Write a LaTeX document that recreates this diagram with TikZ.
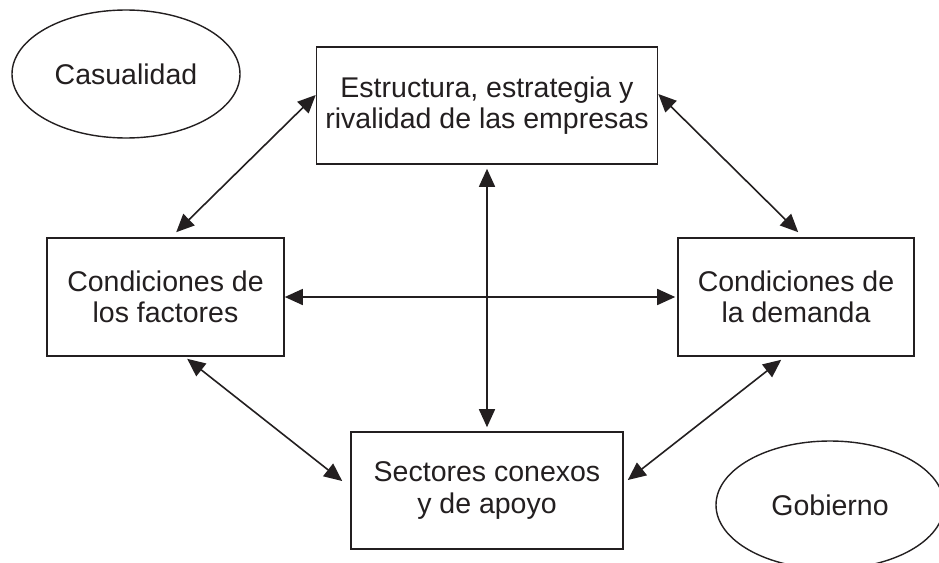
\documentclass[tikz,border=0pt]{standalone}
\usepackage{fontspec}
\setmainfont{Liberation Sans}
\usetikzlibrary{arrows.meta,shapes.geometric}
\definecolor{ink}{HTML}{231F20}
\tikzset{
  box/.style={draw=ink, line width=1.6pt, rectangle, inner sep=0pt, align=center,
    text=ink, font=\fontsize{28.5}{31.5}\selectfont},
  oval/.style={draw=ink, line width=1.4pt, ellipse, inner sep=0pt, text=ink,
    minimum width=228pt, minimum height=128pt, font=\fontsize{28.5}{31.5}\selectfont},
  conn/.style={draw=ink, line width=1.6pt, {Triangle[length=18pt,width=16pt]}-{Triangle[length=18pt,width=16pt]}}
}
\begin{document}
\begin{tikzpicture}[x=1pt,y=-1pt]
\useasboundingbox (0,0) rectangle (939,562);
\clip (0,0) rectangle (939,562);
\fill[white] (0,0) rectangle (939,562);
\node[oval] (C) at (126,74) {Casualidad};
\node[oval] (G) at (830,505) {Gobierno};
\node[box, minimum width=341pt, minimum height=117pt] (T) at (487,105.5)
  {Estructura, estrategia y\\rivalidad de las empresas};
\node[box, minimum width=237pt, minimum height=118pt] (L) at (165.5,297)
  {Condiciones de\\los factores};
\node[box, minimum width=236pt, minimum height=118pt] (R) at (796,297)
  {Condiciones de\\la demanda};
\node[box, minimum width=272pt, minimum height=117pt] (B) at (487,490.5)
  {Sectores conexos\\y de apoyo};
\draw[conn] ([xshift=130pt,yshift=5pt]L.north west) -- ([yshift=10.5pt]T.west);
\draw[conn] ([yshift=11.5pt]T.east) -- ([xshift=121pt,yshift=5pt]R.north west);
\draw[conn, shorten <=4pt, shorten >=4pt] (T.south) -- (B.north);
\draw[conn] (L.east) -- ([xshift=-2pt]R.west);
\draw[conn] ([xshift=141pt,yshift=-2pt]L.south west) -- ([xshift=-8pt,yshift=9.5pt]B.west);
\draw[conn] ([xshift=104pt,yshift=-3pt]R.south west) -- ([xshift=4pt,yshift=10.5pt]B.east);
\end{tikzpicture}
\end{document}
